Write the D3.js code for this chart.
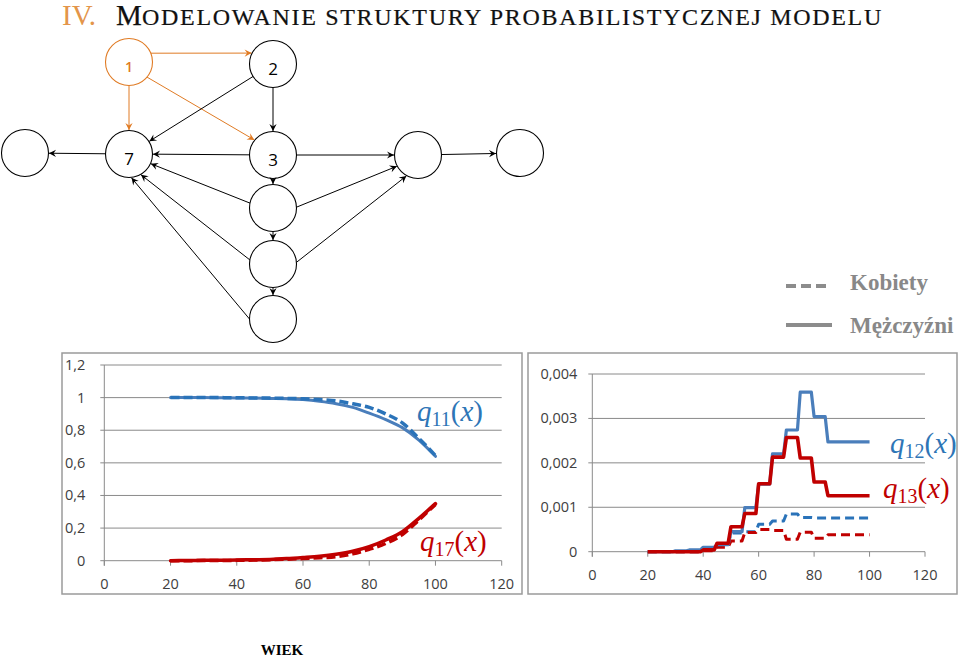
<!DOCTYPE html>
<html><head><meta charset="utf-8">
<script src="https://cdn.jsdelivr.net/npm/d3@7/dist/d3.min.js"></script>
<style>
html,body{margin:0;padding:0;background:#fff;}
svg{display:block;}
</style></head>
<body>
<svg id="c" width="960" height="659"></svg>
<script>
// ---------- DATA ----------
const ages5 = [20,25,30,35,40,45,50,55,60,65,70,75,80,85,90,95,100];
// q11(x) (left chart)
const q11Men   = [1.000,1.000,1.000,0.999,0.998,0.997,0.995,0.993,0.988,0.978,0.963,0.940,0.905,0.865,0.816,0.740,0.640];
const q11Women = [1.000,1.000,1.000,1.000,0.999,0.998,0.997,0.995,0.993,0.988,0.980,0.962,0.940,0.900,0.845,0.750,0.645];
// q17(x) (left chart)
const q17Men   = [0.000,0.001,0.002,0.003,0.004,0.006,0.008,0.013,0.020,0.028,0.040,0.058,0.086,0.127,0.178,0.260,0.350];
const q17Women = [0.000,0.000,0.001,0.001,0.002,0.004,0.006,0.009,0.013,0.018,0.025,0.042,0.070,0.106,0.160,0.250,0.345];

// right chart: step functions by 5-year age groups (group start ages)
const groupStarts = [20,25,30,35,40,45,50,55,60,65,70,75,80,85];
const lastAge = 100;
const q12Men   = [0,0,0.00002,0.00004,0.00010,0.00016,0.00045,0.00099,0.00152,0.00220,0.00274,0.00359,0.00304,0.00247];
const q13Men   = [0,0,0,0,0.00004,0.00019,0.00056,0.00086,0.00153,0.00213,0.00257,0.00211,0.00157,0.00126];
const q12Women = [0,0,0,0,0.00003,0.00015,0.00042,0.00045,0.00062,0.00069,0.00085,0.00077,0.00076,0.00076];
const q13Women = [0,0,0,0,0.00002,0.00010,0.00024,0.00043,0.00050,0.00048,0.00028,0.00044,0.00030,0.00038];

const xTicks = [0,20,40,60,80,100,120];
const leftYTicks = [0,0.2,0.4,0.6,0.8,1,1.2];
const leftYLabels = ["0","0,2","0,4","0,6","0,8","1","1,2"];
const rightYTicks = [0,0.001,0.002,0.003,0.004];
const rightYLabels = ["0","0,001","0,002","0,003","0,004"];

// diagram
const nodes = [
  {id:"1", x:129, y:62,  label:"1", orange:true},
  {id:"2", x:273, y:64,  label:"2"},
  {id:"7", x:129, y:154, label:"7"},
  {id:"L", x:25,  y:153, label:""},
  {id:"3", x:273, y:155, label:"3"},
  {id:"A", x:418, y:155, label:""},
  {id:"B", x:520, y:153, label:""},
  {id:"4", x:273, y:208, label:""},
  {id:"5", x:273, y:264, label:""},
  {id:"6", x:273, y:319, label:""}
];
const edges = [
  {s:"1", t:"2", sa:-22, ta:207, orange:true},
  {s:"1", t:"7", orange:true},
  {s:"1", t:"3", sa:40, ta:219, orange:true},
  {s:"2", t:"7"},
  {s:"2", t:"3"},
  {s:"3", t:"7"},
  {s:"7", t:"L"},
  {s:"3", t:"A"},
  {s:"A", t:"B"},
  {s:"3", t:"4"},
  {s:"4", t:"5"},
  {s:"5", t:"6"},
  {s:"4", t:"7", sa:192, ta:24},
  {s:"4", t:"A", sa:-2, ta:152},
  {s:"5", t:"7", sa:190, ta:60},
  {s:"5", t:"A", sa:-4, ta:119},
  {s:"6", t:"7", sa:180, ta:84}
];

// ---------- COLORS ----------
const BLUE_S = "#4a7ebb", BLUE_D = "#2a73b9", RED = "#c00000", ORANGE = "#e07b24";
const GRID = "#8a8a8a";
const SERIF = "'Liberation Serif', 'Times New Roman', 'DejaVu Serif', serif";

const svg = d3.select("#c");

// fit a text element to a target width using letter-spacing
function fitWidth(sel, target) {
  const n = sel.text().length;
  const w = sel.node().getComputedTextLength();
  sel.attr("letter-spacing", (target - w) / n);
}

// ---------- TITLE ----------
svg.append("text").attr("x", 62).attr("y", 25).attr("font-family", SERIF)
  .attr("fill", "#e3954a").attr("font-size", 29).text("IV.");
svg.append("text").attr("x", 116).attr("y", 25).attr("font-family", SERIF)
  .attr("fill", "#111").attr("font-size", 29).attr("stroke","#111").attr("stroke-width",0.25).text("M");
const tRest = svg.append("text").attr("x", 142).attr("y", 25).attr("font-family", SERIF)
  .attr("fill", "#111").attr("font-size", 24).attr("stroke","#111").attr("stroke-width",0.2)
  .text("ODELOWANIE STRUKTURY PROBABILISTYCZNEJ MODELU");
fitWidth(tRest, 741);

// ---------- DIAGRAM ----------
const R = 23.5;
const nById = new Map(nodes.map(n => [n.id, n]));
const defs = svg.append("defs");
[["arrB","#000"],["arrO",ORANGE]].forEach(([id,col]) => {
  defs.append("marker").attr("id", id).attr("viewBox","-8 -5 9 10")
    .attr("refX", 0).attr("refY", 0).attr("markerWidth", 9).attr("markerHeight", 10)
    .attr("markerUnits","userSpaceOnUse").attr("orient","auto")
    .append("path").attr("d","M0,0 L-7,-3.6 L-4.5,0 L-7,3.6 Z").attr("fill", col);
});
const dg = svg.append("g");
edges.forEach(e => {
  const a = nById.get(e.s), b = nById.get(e.t);
  const ang = Math.atan2(b.y - a.y, b.x - a.x);
  const sa = e.sa !== undefined ? e.sa * Math.PI/180 : ang;
  const ta = e.ta !== undefined ? e.ta * Math.PI/180 : ang + Math.PI;
  const x1 = a.x + R*Math.cos(sa), y1 = a.y + R*Math.sin(sa);
  const x2 = b.x + (R+0.5)*Math.cos(ta), y2 = b.y + (R+0.5)*Math.sin(ta);
  dg.append("line").attr("x1",x1).attr("y1",y1).attr("x2",x2).attr("y2",y2)
    .attr("stroke", e.orange ? ORANGE : "#000").attr("stroke-width", 1)
    .attr("marker-end", e.orange ? "url(#arrO)" : "url(#arrB)");
});
dg.selectAll("circle.node").data(nodes).join("circle")
  .attr("cx", d => d.x).attr("cy", d => d.y).attr("r", R)
  .attr("fill", "none").attr("stroke", d => d.orange ? ORANGE : "#000").attr("stroke-width", 1.1);
dg.selectAll("text.nl").data(nodes.filter(n => n.label)).join("text")
  .attr("x", d => d.x).attr("y", d => d.orange ? d.y + 10 : d.y + 11)
  .attr("text-anchor","middle")
  .attr("font-family","'Open Sans', 'Noto Sans', sans-serif")
  .attr("font-size", d => d.orange ? 14 : 17)
  .attr("font-weight", d => d.orange ? 600 : 400)
  .attr("fill", d => d.orange ? ORANGE : "#000")
  .text(d => d.label);

// ---------- LEGEND ----------
const lg = svg.append("g");
lg.append("line").attr("x1",786).attr("x2",830).attr("y1",286).attr("y2",286)
  .attr("stroke","#8c8c8c").attr("stroke-width",4).attr("stroke-dasharray","10,5");
lg.append("line").attr("x1",786).attr("x2",832).attr("y1",325).attr("y2",325)
  .attr("stroke","#8c8c8c").attr("stroke-width",4);
lg.append("text").attr("x",850).attr("y",290).text("Kobiety");
lg.append("text").attr("x",850).attr("y",333).text("Mężczyźni");
lg.selectAll("text").attr("font-family",SERIF).attr("font-size",23)
  .attr("font-weight","bold").attr("fill","#888");

// ---------- CHART HELPERS ----------
function frame(x0, y0, x1, y1) {
  svg.append("rect").attr("x", x0).attr("y", y0).attr("width", x1-x0).attr("height", y1-y0)
    .attr("fill","#fff").attr("stroke","#9a9a9a").attr("stroke-width",1.5);
}
function axes(g, x, y, yTicks, yLabels, labelOffset) {
  g.selectAll("line.grid").data(yTicks).join("line")
    .attr("x1", x(0) - 4).attr("x2", x(120))
    .attr("y1", d => y(d)).attr("y2", d => y(d))
    .attr("stroke", GRID).attr("stroke-width", 1);
  g.append("line").attr("x1", x(0)).attr("x2", x(0)).attr("y1", y(0) + 5).attr("y2", y(yTicks[yTicks.length-1]))
    .attr("stroke", GRID).attr("stroke-width", 1);
  g.selectAll("line.xt").data(xTicks).join("line")
    .attr("x1", d => x(d)).attr("x2", d => x(d)).attr("y1", y(0)).attr("y2", y(0) + 5)
    .attr("stroke", GRID).attr("stroke-width", 1);
  const font = "'Open Sans', 'Noto Sans', sans-serif";
  g.selectAll("text.xl").data(xTicks).join("text")
    .attr("x", d => x(d)).attr("y", y(0) + 28).attr("text-anchor","middle")
    .attr("font-family", font).attr("font-size", 14.5).attr("fill","#404040").text(d => d);
  g.selectAll("text.yl").data(yTicks).join("text")
    .attr("x", x(0) - labelOffset).attr("y", d => y(d) + 5).attr("text-anchor","end")
    .attr("font-family", font).attr("font-size", 14.5).attr("fill","#404040").text((d,i) => yLabels[i]);
}
function qLabel(g, x, yb, sub, color) {
  const t = g.append("text").attr("x", x).attr("y", yb)
    .attr("font-family",SERIF).attr("font-style","italic").attr("fill", color);
  t.append("tspan").attr("font-size", 29).text("q");
  t.append("tspan").attr("font-size", 20).attr("font-style","normal").attr("dy", 5).text(sub);
  t.append("tspan").attr("font-size", 29).attr("dy", -5).attr("font-style","normal").text("(");
  t.append("tspan").attr("font-size", 29).text("x");
  t.append("tspan").attr("font-size", 29).attr("font-style","normal").text(")");
}

// ---------- LEFT CHART ----------
frame(62, 353, 522, 594);
const xL = d3.scaleLinear().domain([0,120]).range([104.3, 501.7]);
const yL = d3.scaleLinear().domain([0,1.2]).range([560.7, 365]);
const gL = svg.append("g");
axes(gL, xL, yL, leftYTicks, leftYLabels, 19);
const lineL = d3.line().x(d => xL(d[0])).y(d => yL(d[1])).curve(d3.curveMonotoneX);
function drawL(vals, color, dashed, w) {
  gL.append("path").attr("d", lineL(ages5.map((a,i) => [a, vals[i]])))
    .attr("fill","none").attr("stroke", color).attr("stroke-width", w)
    .attr("stroke-dasharray", dashed ? "9,4" : null).attr("stroke-linecap", dashed ? "butt" : "round");
}
drawL(q11Men, BLUE_S, false, 3);
drawL(q11Women, BLUE_D, true, 3.5);
drawL(q17Men, RED, false, 3.5);
drawL(q17Women, RED, true, 3.5);
qLabel(gL, 417, 421, "11", "#2e75b6");
qLabel(gL, 420, 551, "17", RED);

// ---------- RIGHT CHART ----------
frame(528, 353, 957, 594);
const xR = d3.scaleLinear().domain([0,120]).range([592.3, 925]);
const yR = d3.scaleLinear().domain([0,0.004]).range([551.7, 374]);
const gR = svg.append("g");
axes(gR, xR, yR, rightYTicks, rightYLabels, 15);
const lineR = d3.line().x(d => xR(d[0])).y(d => yR(d[1]));
function stepPoints(vals) {
  const pts = [];
  groupStarts.forEach((a, i) => {
    const end = i === groupStarts.length - 1 ? lastAge : a + 4;
    pts.push([a, vals[i]], [end, vals[i]]);
  });
  return pts;
}
function drawR(vals, color, dashed, w) {
  gR.append("path").attr("d", lineR(stepPoints(vals)))
    .attr("fill","none").attr("stroke", color).attr("stroke-width", w)
    .attr("stroke-dasharray", dashed ? "9,5" : null).attr("stroke-linejoin","round");
}
drawR(q12Women, BLUE_D, true, 3);
drawR(q13Women, RED, true, 3);
drawR(q12Men, BLUE_S, false, 3.2);
drawR(q13Men, RED, false, 3.6);
qLabel(gR, 890, 453, "12", "#2e75b6");
qLabel(gR, 883, 498, "13", RED);

// ---------- AXIS TITLE ----------
svg.append("text").attr("x", 282).attr("y", 655).attr("text-anchor","middle")
  .attr("font-family",SERIF).attr("font-weight","bold").attr("font-size",15)
  .attr("fill","#000").text("WIEK");
</script>
</body></html>
